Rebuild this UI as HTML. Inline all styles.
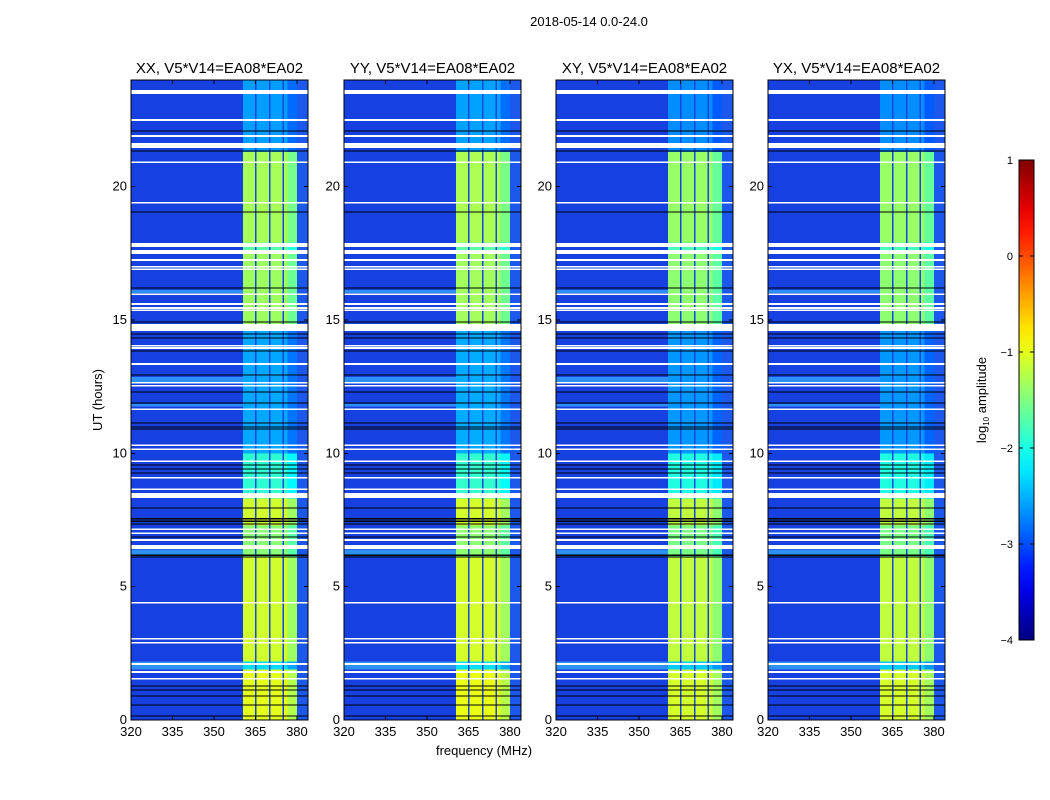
<!DOCTYPE html>
<html><head><meta charset="utf-8"><style>
body{margin:0;background:#fff;font-family:"Liberation Sans","DejaVu Sans",sans-serif}
</style></head><body>
<svg id="fig" width="1050" height="800" xmlns="http://www.w3.org/2000/svg" style="display:block">
<rect width="1050" height="800" fill="#fff"/>
<text x="589" y="26" font-size="13" text-anchor="middle" fill="#000">2018-05-14 0.0-24.0</text>
<text x="484" y="755" font-size="13" text-anchor="middle">frequency (MHz)</text>
<text x="0" y="0" font-size="13" text-anchor="middle" transform="translate(102,400) rotate(-90)">UT (hours)</text>
<g id="panels"></g>
<g id="cbar"></g>
</svg>
<script>
const panelTitles=["XX, V5*V14=EA08*EA02","YY, V5*V14=EA08*EA02","XY, V5*V14=EA08*EA02","YX, V5*V14=EA08*EA02"];
const panelGain=[0,0.02,-0.08,-0.08];
const xTicks=[320,335,350,365,380];
const yTicks=[0,5,10,15,20];
const bandRange=[360.5,380];
const subBandSeps=[365,370,375];
const bandSegStart=[0,1.9,2.2,6.1,7.3,8.3,10,14.6,17.5,17.9,21.3];
const bandSegEnd=[1.9,2.2,6.1,7.3,8.3,10,14.6,17.5,17.9,21.3,24];
const bandSegLevel=[-1.0,-2.3,-1.1,-1.45,-1.1,-1.9,-2.55,-1.35,-1.7,-1.3,-2.6];
const cyanRowStart=[1.9,6.2,11.75,12.67,16.01];
const cyanRowEnd=[2.2,6.4,11.85,12.86,16.12];
const whiteRowStart=[23.47,22.47,21.87,21.45,20.89,19.36,17.74,17.47,17.22,16.96,16.88,15.94,15.57,15.42,15.34,14.59,14.0,13.92,13.32,12.61,12.5,11.63,10.28,10.13,9.68,9.05,8.63,8.32,7.13,6.98,6.72,6.41,4.36,3.01,2.86,2.07,1.76,1.51];
const whiteRowEnd=[23.62,22.53,21.93,21.64,20.95,19.42,17.89,17.62,17.28,17.02,16.94,16.0,15.63,15.48,15.4,14.85,14.06,13.98,13.38,12.67,12.56,11.69,10.34,10.19,9.74,9.11,8.69,8.51,7.19,7.04,6.78,6.56,4.42,3.07,2.92,2.13,1.84,1.57];
const blackRow=[22.09,21.34,19.05,16.2,14.93,14.48,14.33,13.84,12.94,12.3,11.89,11.14,10.99,10.91,9.56,9.41,9.26,7.95,7.35,7.45,7.55,6.86,6.11,6.18,1.27,1.12,0.9,0.56,0.15];
const cbTicks=[1,0,-1,-2,-3,-4];
const cbMin=-4,cbMax=1;

const NS="http://www.w3.org/2000/svg";
function el(t,a,p){const e=document.createElementNS(NS,t);for(const k in a)e.setAttribute(k,a[k]);p.appendChild(e);return e;}
function clip(v){return Math.max(0,Math.min(1,v));}
function jet(l){const x=clip((l-cbMin)/(cbMax-cbMin));const r=clip(1.5-Math.abs(4*x-3)),g=clip(1.5-Math.abs(4*x-2)),b=clip(1.5-Math.abs(4*x-1));return `rgb(${Math.round(r*255)},${Math.round(g*255)},${Math.round(b*255)})`;}
const lefts=[131,344,556,768],W=177,T=80,H=640,X0=320,X1=384,Y0=0,Y1=24;
const panels=document.getElementById('panels');
lefts.forEach((L,pi)=>{
  const xs=v=>L+(v-X0)/(X1-X0)*W;
  const ys=v=>T+H-(v-Y0)/(Y1-Y0)*H;
  const g=el('g',{'shape-rendering':'crispEdges'},panels);
  
  
  const bg=el('rect',{x:L,y:T,width:W,height:H,fill:'#1640e0'},g);
  
  
  const rc=el('rect',{x:xs(380),y:T,width:xs(384)-xs(380),height:H,fill:'#1c58ec'},g);
  
  
  bandSegStart.forEach((s,i)=>{
    const lv=bandSegLevel[i]+panelGain[pi];
    const r=el('rect',{x:xs(bandRange[0]),y:ys(bandSegEnd[i]),width:xs(bandRange[1])-xs(bandRange[0]),height:ys(s)-ys(bandSegEnd[i]),fill:jet(lv)},g);
    
    
    const r2=el('rect',{x:xs(376.5),y:ys(bandSegEnd[i]),width:xs(bandRange[1])-xs(376.5),height:ys(s)-ys(bandSegEnd[i]),fill:jet(lv-0.25)},g);
    
    
  });
  subBandSeps.forEach(v=>{
    const r=el('rect',{x:xs(v)-0.5,y:T,width:1.5,height:H,fill:'#1848e0'},g);
    
    
  });
  cyanRowStart.forEach((s,i)=>{
    const r=el('rect',{x:L,y:ys(cyanRowEnd[i]),width:xs(bandRange[0])-L,height:ys(s)-ys(cyanRowEnd[i]),fill:'#2c90f4'},g);
    
    
  });
  whiteRowStart.forEach((s,i)=>{
    const h=Math.max(1.5,ys(s)-ys(whiteRowEnd[i]));
    const r=el('rect',{x:L,y:ys(whiteRowEnd[i]),width:W,height:h,fill:'#fff'},g);
    
    
  });
  blackRow.forEach(v=>{
    const r=el('rect',{x:L,y:ys(v)-0.6,width:W,height:1.2,fill:'#000'},g);
    
    
  });
  const fr=el('rect',{x:L,y:T,width:W,height:H,fill:'none',stroke:'#000','stroke-width':1},g);
  
  
  const t=el('text',{x:L+W/2,y:T-7,'font-size':15,'text-anchor':'middle'},g);
  t.textContent=panelTitles[pi];
  
  
  xTicks.forEach(v=>{
    const x=xs(v);
    el('line',{x1:x,x2:x,y1:T+H,y2:T+H-4,stroke:'#000'},g);
    el('line',{x1:x,x2:x,y1:T,y2:T+4,stroke:'#000'},g);
    const tx=el('text',{x:x,y:T+H+16,'font-size':13,'text-anchor':'middle'},g);
    tx.textContent=v;
    
    
  });
  yTicks.forEach(v=>{
    const y=ys(v);
    el('line',{x1:L,x2:L+4,y1:y,y2:y,stroke:'#000'},g);
    el('line',{x1:L+W,x2:L+W-4,y1:y,y2:y,stroke:'#000'},g);
    const tx=el('text',{x:L-4,y:y+4,'font-size':13,'text-anchor':'end'},g);
    tx.textContent=v;
    
    
  });
});
const cb=document.getElementById('cbar');
const CX=1019,CW=15,CT=160,CH=480;
const cys=v=>CT+CH-(v-cbMin)/(cbMax-cbMin)*CH;
const defs=el('defs',{},cb);
const lg=el('linearGradient',{id:'jetg',x1:0,y1:1,x2:0,y2:0},defs);
for(let i=0;i<=20;i++){el('stop',{offset:i/20,'stop-color':jet(cbMin+i/20*(cbMax-cbMin))},lg);}
const cr=el('rect',{x:CX,y:CT,width:CW,height:CH,fill:'url(#jetg)',stroke:'#000'},cb);


cbTicks.forEach(v=>{
  const y=cys(v);
  el('line',{x1:CX,x2:CX+4,y1:y,y2:y,stroke:'#000'},cb);
  el('line',{x1:CX+CW,x2:CX+CW-4,y1:y,y2:y,stroke:'#000'},cb);
  const tx=el('text',{x:CX-6,y:y+4,'font-size':11,'text-anchor':'end'},cb);
  tx.textContent=v<0?'\u2212'+Math.abs(v):v;
  
  
});
const cl=el('text',{x:0,y:0,'font-size':13,'text-anchor':'middle',transform:'translate(986,400) rotate(-90)'},cb);
cl.innerHTML='log<tspan font-size="8" dy="3">10</tspan><tspan dy="-3"> amplitude</tspan>';


</script>
</body></html>
